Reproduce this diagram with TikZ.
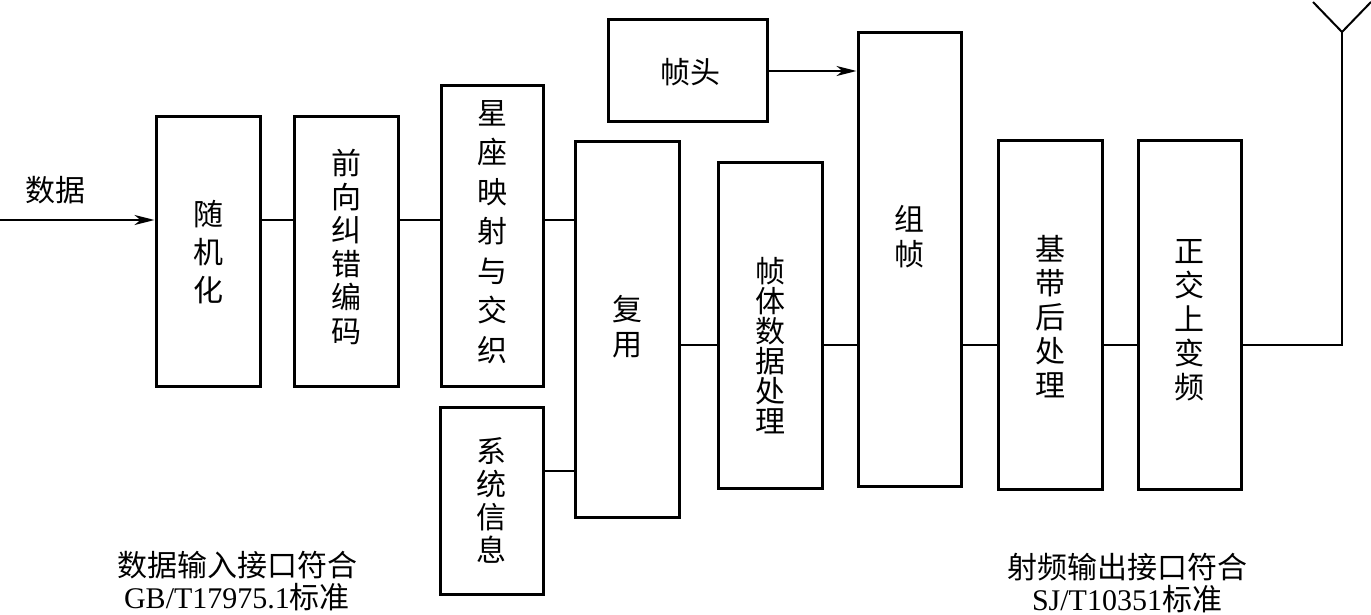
\documentclass[tikz,border=0pt]{standalone}
\usepackage{fontspec}
\setmainfont{Liberation Serif}
\newfontfamily\cjk{Noto Sans CJK SC}
\usetikzlibrary{arrows.meta}
\tikzset{
  blk/.style={draw, line width=3pt, inner sep=0pt, minimum width=#1},
  blk/.default=104pt,
  lbl/.style={font=\cjk\fontsize{30}{#1}\selectfont, align=center, inner sep=0pt},
  lbl/.default=34pt,
  wire/.style={line width=2pt},
  arr/.style={line width=2pt, -{Stealth[length=20pt,width=10pt,inset=6pt]}},
  captxt/.style={font=\fontsize{30}{32}\selectfont, align=center, inner sep=0pt}
}
\begin{document}
\begin{tikzpicture}[x=1pt,y=-1pt]
\useasboundingbox (0,0) rectangle (1371,615);
% blocks
\node[blk, minimum height=269pt] (rand) at (208,251.5) {};
\node[blk, minimum height=269pt] (fec)  at (346,251.5) {};
\node[blk=102pt, minimum height=300pt] (map) at (492,236) {};
\node[blk=103pt, minimum height=187pt] (sys) at (491.5,500.5) {};
\node[blk, minimum height=375pt] (mux) at (627,329.5) {};
\node[blk=159pt, minimum height=102pt] (head) at (687.5,71) {};
\node[blk, minimum height=325pt] (body) at (770,325.5) {};
\node[blk=103pt, minimum height=453pt] (frame) at (909.5,259.5) {};
\node[blk, minimum height=348pt] (bb) at (1050,315) {};
\node[blk=103pt, minimum height=348pt] (iq) at (1189.5,315) {};
% labels
\node[lbl=38pt] (trand) at (208,252) {随\\机\\化};
\node[lbl=33.5pt] (tfec) at (346,247) {前\\向\\纠\\错\\编\\码};
\node[lbl=39.5pt] (tmap) at (492,232) {星\\座\\映\\射\\与\\交\\织};
\node[lbl=33pt] (tsys) at (491.5,500) {系\\统\\信\\息};
\node[lbl=35pt] (tmux) at (627,327) {复\\用};
\node[lbl] (thead) at (690,72) {帧头};
\node[lbl=30pt] (tbody) at (770,346) {帧\\体\\数\\据\\处\\理};
\node[lbl=35pt] (tframe) at (909.5,237) {组\\帧};
\node[lbl=34pt] (tbb) at (1050,317) {基\\带\\后\\处\\理};
\node[lbl=34pt] (tiq) at (1189.5,320) {正\\交\\上\\变\\频};
\node[lbl] (tdata) at (55,190) {数据};
\node[captxt] (capl) at (237,581) {{\cjk 数据输入接口符合}\\GB/T17975.1{\cjk 标准}};
\node[captxt] (capr) at (1127,583) {{\cjk 射频输出接口符合}\\SJ/T10351{\cjk 标准}};
% helper coordinates
\coordinate (in) at (0,220);
\coordinate (ysys) at (0,471);
\coordinate (ymid) at (0,345);
\coordinate (ant) at (1342,345);
\coordinate (antTop) at (1342,32);
\coordinate (armL) at (1313,2);
\coordinate (armR) at (1371,2);
% connectors
\draw[arr] (in) -- (in -| rand.west);
\draw[wire] (rand.east |- in) -- (fec.west |- in);
\draw[wire] (fec.east |- in) -- (map.west |- in);
\draw[wire] (map.east |- in) -- (mux.west |- in);
\draw[wire] (sys.east |- ysys) -- (mux.west |- ysys);
\draw[arr] (head.east) -- (head.east -| frame.west);
\draw[wire] (mux.east |- ymid) -- (body.west |- ymid);
\draw[wire] (body.east |- ymid) -- (frame.west |- ymid);
\draw[wire] (frame.east |- ymid) -- (bb.west |- ymid);
\draw[wire] (bb.east |- ymid) -- (iq.west |- ymid);
\draw[wire] (iq.east |- ymid) -- (ant) -- (antTop);
\draw[wire] (armL) -- (antTop) -- (armR);
\end{tikzpicture}
\end{document}
